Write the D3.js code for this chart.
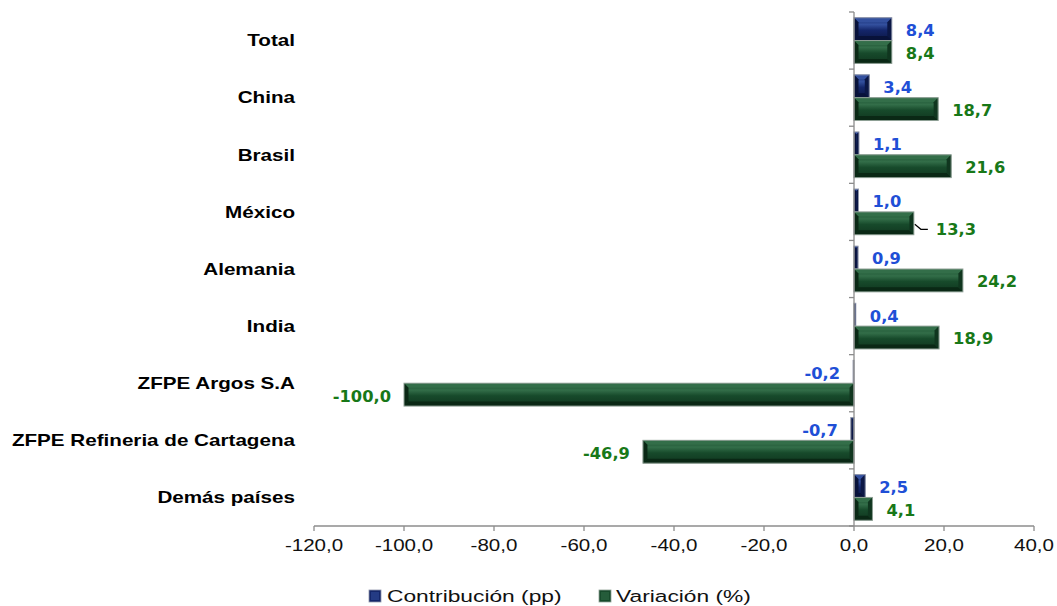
<!DOCTYPE html>
<html>
<head>
<meta charset="utf-8">
<script src="https://cdn.jsdelivr.net/npm/d3@7"></script>
<style>
  html, body { margin: 0; padding: 0; background: #fff; }
  svg { display: block; }
</style>
</head>
<body>
<svg id="chart" width="1057" height="606"></svg>
<script>
// ---------- DATA ----------
const categories = ["Total", "China", "Brasil", "México", "Alemania", "India",
  "ZFPE Argos S.A", "ZFPE Refineria de Cartagena", "Demás países"];
const contribucion = [8.4, 3.4, 1.1, 1.0, 0.9, 0.4, -0.2, -0.7, 2.5];
const variacion = [8.4, 18.7, 21.6, 13.3, 24.2, 18.9, -100.0, -46.9, 4.1];
const seriesNames = ["Contribución (pp)", "Variación (%)"];
const xTickValues = [-120, -100, -80, -60, -40, -20, 0, 20, 40];
const xDomain = [-120, 40];

// ---------- STYLE ----------
const plot = { left: 314, right: 1034, top: 12, bottom: 526 };
const styles = [
  { key: "c", main: "#14266a", light: "#33509e", dark: "#0b1745", darker: "#08123a", edge: "#8f96aa", text: "#1f4fd6" },
  { key: "v", main: "#174a2b", light: "#336e49", dark: "#10361f", darker: "#0a2815", edge: "#8fa096", text: "#187818" }
];
const loc = d3.formatLocale({ decimal: ",", thousands: ".", grouping: [3], currency: ["$", ""], minus: "-" });
const fmt = loc.format(".1f");

const svg = d3.select("#chart");
const defs = svg.append("defs");
styles.forEach(s => {
  const g = defs.append("linearGradient").attr("id", "face-" + s.key)
    .attr("x1", 0).attr("y1", 0).attr("x2", 0).attr("y2", 1);
  g.append("stop").attr("offset", "0%").attr("stop-color", s.main);
  g.append("stop").attr("offset", "30%").attr("stop-color", s.light);
  g.append("stop").attr("offset", "55%").attr("stop-color", s.main);
  g.append("stop").attr("offset", "100%").attr("stop-color", s.dark);
});

const x = d3.scaleLinear().domain(xDomain).range([plot.left, plot.right]);
const y = d3.scaleBand().domain(categories).range([plot.top, plot.bottom]).padding(0);
const sub = d3.scaleBand().domain(["c", "v"]).range([y.bandwidth() * 0.1, y.bandwidth() * 0.9]).padding(0);

// stretched text helper
function stext(g, tx, ty, str, opts) {
  return g.append("text")
    .attr("transform", `translate(${tx},${ty}) scale(${opts.sx || 1},1)`)
    .attr("x", 0).attr("y", 0).attr("dy", "0.36em")
    .attr("text-anchor", opts.anchor || "start")
    .attr("font-family", opts.family || "Liberation Sans, Arial, sans-serif")
    .attr("font-size", opts.size || 16)
    .attr("font-weight", opts.weight || "normal")
    .attr("fill", opts.fill || "#000")
    .text(str);
}

// bevelled bar
function bevelBar(g, x0, y0, x1, y1, s, bmax) {
  const w = x1 - x0, h = y1 - y0;
  const b = Math.max(0, Math.min(bmax, w / 2, h / 2));
  const bg = g.append("g");
  bg.append("rect").attr("x", x0).attr("y", y0).attr("width", w).attr("height", h)
    .attr("fill", "url(#face-" + s.key + ")");
  const poly = (pts, fill) => bg.append("polygon")
    .attr("points", pts.map(p => p.join(",")).join(" ")).attr("fill", fill);
  if (b > 0.3) {
    poly([[x0, y0], [x1, y0], [x1 - b, y0 + b], [x0 + b, y0 + b]], s.light);
    poly([[x0, y1], [x1, y1], [x1 - b, y1 - b], [x0 + b, y1 - b]], s.darker);
    poly([[x0, y0], [x0 + b, y0 + b], [x0 + b, y1 - b], [x0, y1]], s.darker);
    poly([[x1, y0], [x1 - b, y0 + b], [x1 - b, y1 - b], [x1, y1]], s.dark);
  }
  bg.append("rect").attr("x", x0).attr("y", y0).attr("width", w).attr("height", h)
    .attr("fill", "none").attr("stroke", s.edge).attr("stroke-width", 1);
}

// ---------- BARS ----------
const barsG = svg.append("g");
const series = [contribucion, variacion];
categories.forEach((cat, i) => {
  series.forEach((vals, k) => {
    const s = styles[k];
    const v = vals[i];
    const xa = x(Math.min(0, v)), xb = x(Math.max(0, v));
    const ya = y(cat) + sub(s.key), yb = ya + sub.bandwidth();
    bevelBar(barsG, xa, ya, xb, yb, s, 4.5);
  });
});

// ---------- AXES ----------
const axisColor = "#8c8c8c";
const yAx = svg.append("g");
yAx.append("line").attr("x1", x(0)).attr("x2", x(0)).attr("y1", plot.top).attr("y2", plot.bottom)
  .attr("stroke", axisColor).attr("stroke-width", 1.3);
const bounds = categories.map(c => y(c)).concat([plot.bottom]);
bounds.forEach(b => {
  yAx.append("line").attr("x1", x(0) - 5).attr("x2", x(0)).attr("y1", b).attr("y2", b)
    .attr("stroke", axisColor).attr("stroke-width", 1.3);
});
const xAx = svg.append("g");
xAx.append("line").attr("x1", plot.left).attr("x2", plot.right).attr("y1", plot.bottom).attr("y2", plot.bottom)
  .attr("stroke", axisColor).attr("stroke-width", 1.3);
xTickValues.forEach(t => {
  xAx.append("line").attr("x1", x(t)).attr("x2", x(t)).attr("y1", plot.bottom).attr("y2", plot.bottom + 5)
    .attr("stroke", axisColor).attr("stroke-width", 1.3);
  stext(xAx, x(t), 545, fmt(t), { anchor: "middle", size: 15.8, sx: 1.3, fill: "#111" });
});

// category labels
const catG = svg.append("g");
categories.forEach(c => {
  stext(catG, 295, y(c) + y.bandwidth() / 2, c, { anchor: "end", size: 16, weight: "bold", sx: 1.29, fill: "#000" });
});

// ---------- DATA LABELS ----------
const labG = svg.append("g");
categories.forEach((cat, i) => {
  series.forEach((vals, k) => {
    const s = styles[k];
    const v = vals[i];
    const cy = y(cat) + sub(s.key) + sub.bandwidth() / 2 + 1;
    const xe = x(v);
    let lx = v >= 0 ? xe + 14 : xe - 13;
    let ly = cy;
    if (cat === "México" && k === 1) {
      const nx = xe + 22, ny = cy + 5;
      labG.append("path")
        .attr("d", `M${xe + 1},${cy} L${xe + 7},${ny} L${nx - 8},${ny}`)
        .attr("fill", "none").attr("stroke", "#000").attr("stroke-width", 1.2);
      lx = nx; ly = ny;
    }
    stext(labG, lx, ly, fmt(v), {
      anchor: v >= 0 ? "start" : "end", size: 16.3, weight: "bold",
      family: "DejaVu Sans, Verdana, sans-serif", fill: s.text, sx: 1
    });
  });
});

// ---------- LEGEND ----------
const legG = svg.append("g");
const legendItems = [{ x: 369, tx: 387 }, { x: 599, tx: 616 }];
seriesNames.forEach((name, k) => {
  const s = styles[k];
  const li = legendItems[k];
  legG.append("rect").attr("x", li.x).attr("y", 590).attr("width", 12).attr("height", 12)
    .attr("fill", s.main).attr("stroke", s.edge).attr("stroke-width", 0.8);
  legG.append("rect").attr("x", li.x + 2).attr("y", 592).attr("width", 8).attr("height", 8)
    .attr("fill", s.light).attr("opacity", 0.5);
  stext(legG, li.tx, 596, name, { anchor: "start", size: 17, sx: 1.34, fill: "#111" });
});
</script>
</body>
</html>
